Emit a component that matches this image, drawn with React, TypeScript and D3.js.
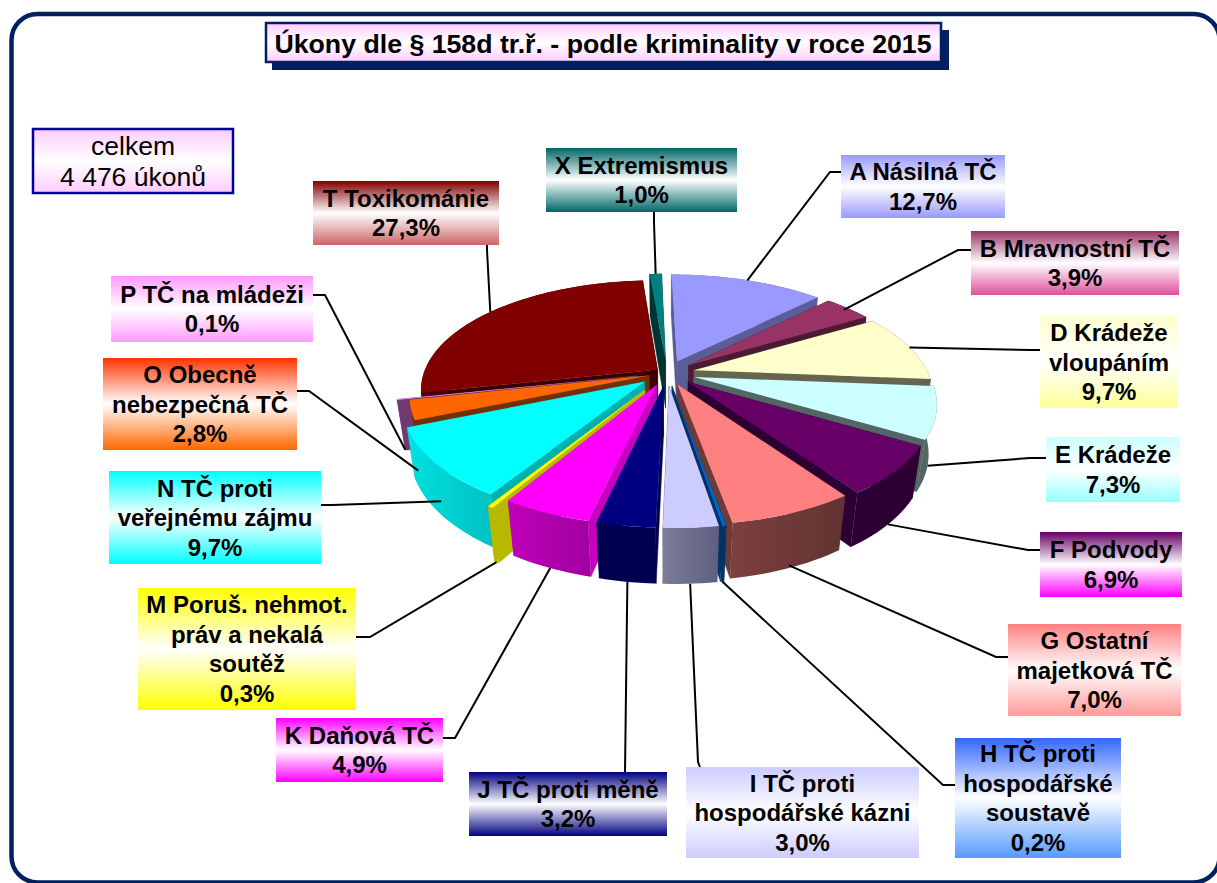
import React from "react";
import * as d3 from "d3";

// ---------- data ----------
const codes = ["A", "B", "D", "E", "F", "G", "H", "I", "J", "K", "M", "N", "O", "P", "T", "X"];
const labelLines = [
  ["A Násilná TČ"],
  ["B Mravnostní TČ"],
  ["D Krádeže", "vloupáním"],
  ["E Krádeže"],
  ["F Podvody"],
  ["G Ostatní", "majetková TČ"],
  ["H TČ proti", "hospodářské", "soustavě"],
  ["I TČ proti", "hospodářské kázni"],
  ["J TČ proti měně"],
  ["K Daňová TČ"],
  ["M Poruš. nehmot.", "práv a nekalá", "soutěž"],
  ["N TČ proti", "veřejnému zájmu"],
  ["O Obecně", "nebezpečná TČ"],
  ["P TČ na mládeži"],
  ["T Toxikománie"],
  ["X Extremismus"],
];
const shares = [12.7, 3.9, 9.7, 7.3, 6.9, 7.0, 0.2, 3.0, 3.2, 4.9, 0.3, 9.7, 2.8, 0.1, 27.3, 1.0];
const titleText = "Úkony dle § 158d tr.ř. - podle kriminality v roce 2015";
const totalLines = ["celkem", "4 476 úkonů"];

// ---------- styles ----------
const topColors = ["#9999FF", "#993366", "#FFFFCC", "#CCFFFF", "#660066", "#FF8080", "#0066CC", "#CCCCFF", "#000080", "#FF00FF", "#FFFF00", "#00FFFF", "#FF6600", "#FF99FF", "#800000", "#008080"];
const cutColors = ["#5C5C99", "#4D1A33", "#666650", "#526666", "#2D0033", "#6E3A3A", "#003366", "#52527A", "#000050", "#C800C0", "#B8B800", "#00B0B0", "#703000", "#703A70", "#3A0000", "#003333"];
const wallLeft = ["#5C5C99", "#4D1A33", "#666650", "#526666", "#2D0033", "#7E3F3F", "#003366", "#7C7C9C", "#000050", "#C000B8", "#B8B800", "#00E0E0", "#703000", "#703A70", "#4A0000", "#003333"];
const wallRight = ["#5C5C99", "#4D1A33", "#666650", "#526666", "#2D0033", "#623232", "#003366", "#5E5E80", "#000050", "#A000A0", "#B8B800", "#00C0C0", "#703000", "#703A70", "#4A0000", "#003333"];
const boxTop = ["#9999FF", "#993366", "#FFFFCC", "#CCFFFF", "#660066", "#FF8080", "#3366FF", "#CCCCFF", "#000080", "#FF00FF", "#FFFF00", "#00FFFF", "#FF3300", "#FF99FF", "#800000", "#006666"];
const boxBottom = ["#9999FF", "#E04F9B", "#FFFF99", "#99FFFF", "#FF00FF", "#FF9999", "#5599FF", "#CCCCFF", "#000080", "#FF00FF", "#FFFF00", "#00FFFF", "#FF6600", "#FF99FF", "#CC6666", "#006666"];
const boxes: [number, number, number, number][] = [
  [841, 155, 164, 63], [971, 231, 208, 64], [1040, 316, 138, 92], [1046, 437, 134, 65],
  [1040, 532, 142, 65], [1008, 624, 173, 92], [955, 738, 166, 120], [686, 767, 233, 91],
  [469, 772, 198, 64], [276, 718, 167, 64], [138, 588, 218, 122], [109, 471, 212, 93],
  [103, 358, 194, 92], [111, 276, 202, 66], [313, 181, 186, 64], [546, 148, 191, 64],
];
// how far each slice is pulled out of the pie
const explode = [0.12, 0.12, 0.12, 0.12, 0.12, 0.11, 0.12, 0.12, 0.12, 0.12, 0.18, 0.125, 0.08, 0.13, 0.05, 0.12];
// leader: elbow point, then how far along radius (r) and down the wall (z) it lands
const leaders: [number, number, number, number, number, number][] = [
  [841, 172, 830, 172, 1, 0], [971, 250, 958, 250, 0.97, 0], [1040, 350, 1030, 350, 1, 0], [1046, 458, 1030, 458, 1, 1.05],
  [1040, 550, 1028, 550, 1, 1], [1008, 657, 996, 657, 1, 0.95], [955, 785, 943, 785, 1, 1], [700, 767, 698, 762, 1, 1],
  [625, 772, 625, 772, 1, 1], [443, 738, 455, 738, 1, 1], [356, 637, 370, 637, 1, 1], [321, 505, 332, 505, 1, 0.7],
  [297, 391, 309, 391, 1.01, 1.2], [313, 295, 325, 295, 1, 1], [487, 245, 487, 250, 1, 0], [654, 212, 654, 222, 1, 0],
];

const WIDTH = 1217, HEIGHT = 883;
const CX = 667, CY = 373, RX = 234, RY = 108, WALL = 50;
const PERSP = 0.196, DEPTH = 0.03, SHEAR = 5;

const xUnit = d3.scaleLinear().domain([-1, 1]).range([-RX, RX]);
const yUnit = d3.scaleLinear().domain([-1, 1]).range([-RY, RY]);

function project(u: number, v: number, z: number): [number, number] {
  const s = 1 / (1 - PERSP * v + DEPTH * z);
  return [CX + (xUnit(u) + SHEAR * v) * s, CY + (yUnit(v) + WALL * z) * s];
}

const arcs = d3.pie<number>().sort(null).value((d) => d)(shares);
const lineGen = d3.line();

function discPoint(i: number, angle: number, r: number, z: number): [number, number] {
  const a = arcs[i];
  const mid = (a.startAngle + a.endAngle) / 2;
  const u = r * Math.sin(angle) + explode[i] * Math.sin(mid);
  const v = -r * Math.cos(angle) - explode[i] * Math.cos(mid);
  return project(u, v, z);
}

function rimPoints(i: number, z: number): [number, number][] {
  const a = arcs[i];
  const n = Math.max(2, Math.ceil((a.endAngle - a.startAngle) / 0.03));
  return d3.range(n + 1).map((k) => discPoint(i, a.startAngle + ((a.endAngle - a.startAngle) * k) / n, 1, z));
}

const closed = (pts: [number, number][]) => (lineGen(pts) as string) + "Z";

const drawOrder = d3.range(shares.length).sort((p, q) => {
  const mp = (arcs[p].startAngle + arcs[p].endAngle) / 2;
  const mq = (arcs[q].startAngle + arcs[q].endAngle) / 2;
  return -Math.cos(mp) - -Math.cos(mq);
});

const FONT = "'Liberation Sans', Arial, sans-serif";
const LABEL_SIZE = 24, LABEL_LEAD = 29.5;

function Gradient({ id, top, bottom, mid = "#FFFFFF" }: { id: string; top: string; bottom: string; mid?: string }) {
  return (
    <linearGradient id={id} x1="0" y1="0" x2="0" y2="1">
      <stop offset="0" stopColor={top} />
      <stop offset="0.5" stopColor={mid} />
      <stop offset="1" stopColor={bottom} />
    </linearGradient>
  );
}

export default function App() {
  return (
    <svg width={WIDTH} height={HEIGHT} style={{ position: "absolute", left: 0, top: 0, display: "block" }} fontFamily={FONT}>
      <defs>
        <Gradient id="pinkBox" top="#FFCCFF" bottom="#FFCCFF" />
        {codes.map((c, i) => (
          <Gradient key={c} id={`box${c}`} top={boxTop[i]} bottom={boxBottom[i]} />
        ))}
        {codes.map((c, i) => (
          <linearGradient key={c} id={`wall${c}`} x1="0" y1="0" x2="1" y2="0">
            <stop offset="0" stopColor={wallLeft[i]} />
            <stop offset="1" stopColor={wallRight[i]} />
          </linearGradient>
        ))}
      </defs>
      <rect width={WIDTH} height={HEIGHT} fill="#FFFFFF" />
      <rect x={11.5} y={14} width={1208} height={868.5} rx={26} fill="#FFFFFF" stroke="#002060" strokeWidth={4.5} />

      {/* title */}
      <rect x={272} y={30} width={677} height={40} fill="#002060" />
      <rect x={266} y={23} width={675} height={39} fill="url(#pinkBox)" stroke="#002060" strokeWidth={2.5} />
      <text x={603} y={53} textAnchor="middle" fontSize={26.7} fontWeight="bold" fill="#000">{titleText}</text>

      {/* total */}
      <rect x={33} y={129} width={200} height={64} fill="url(#pinkBox)" stroke="#0000A0" strokeWidth={2.5} />
      {totalLines.map((t, k) => (
        <text key={t} x={133} y={155 + k * 31} textAnchor="middle" fontSize={26.5} fill="#000">{t}</text>
      ))}

      {/* pie */}
      {drawOrder.map((i) => {
        const a = arcs[i];
        const c = codes[i];
        const apexTop = discPoint(i, a.startAngle, 0, 0);
        const apexBot = discPoint(i, a.startAngle, 0, 1);
        const top = rimPoints(i, 0);
        const bottom = rimPoints(i, 1);
        const startCut = closed([apexTop, top[0], bottom[0], apexBot]);
        const endCut = closed([apexTop, top[top.length - 1], bottom[bottom.length - 1], apexBot]);
        const wall = closed([...top, ...bottom.slice().reverse()]);
        const face = closed([apexTop, ...top]);
        return (
          <g key={c}>
            <path d={startCut} fill={cutColors[i]} stroke={cutColors[i]} strokeWidth={0.4} />
            <path d={endCut} fill={cutColors[i]} stroke={cutColors[i]} strokeWidth={0.4} />
            <path d={wall} fill={`url(#wall${c})`} />
            <path d={face} fill={topColors[i]} />
          </g>
        );
      })}

      {/* leaders */}
      {leaders.map((l, i) => {
        const a = arcs[i];
        const mid = (a.startAngle + a.endAngle) / 2;
        const pts: [number, number][] = [[l[0], l[1]], [l[2], l[3]], discPoint(i, mid, l[4], l[5])];
        return <path key={codes[i]} d={lineGen(pts) as string} fill="none" stroke="#000" strokeWidth={2} />;
      })}

      {/* labels */}
      {codes.map((c, i) => {
        const [x, y, w, h] = boxes[i];
        const lines = [...labelLines[i], `${d3.format(".1f")(shares[i]).replace(".", ",")}%`];
        const y0 = y + h / 2 - ((lines.length - 1) * LABEL_LEAD) / 2 + LABEL_SIZE * 0.36;
        return (
          <g key={c}>
            <rect x={x} y={y} width={w} height={h} fill={`url(#box${c})`} />
            {lines.map((t, k) => (
              <text key={k} x={x + w / 2} y={y0 + k * LABEL_LEAD} textAnchor="middle" fontSize={LABEL_SIZE} fontWeight="bold" fill="#000">{t}</text>
            ))}
          </g>
        );
      })}
    </svg>
  );
}
